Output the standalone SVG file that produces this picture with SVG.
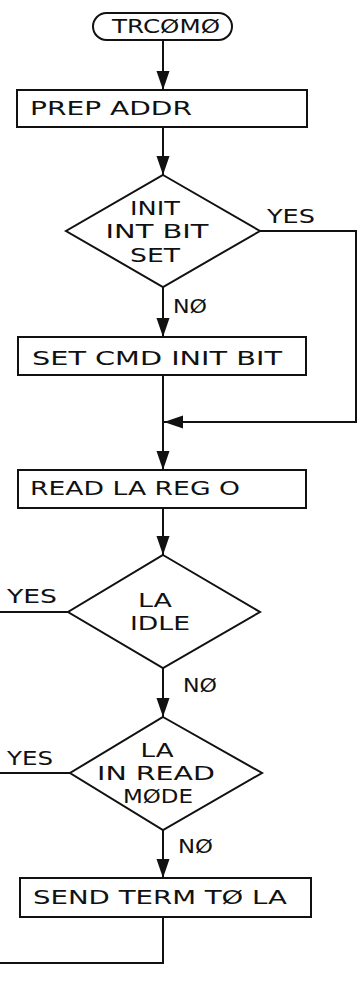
<svg xmlns="http://www.w3.org/2000/svg" width="360" height="983" viewBox="0 0 360 983">
<style>
.sh{fill:#fff;stroke:#111;stroke-width:2}
.ln{fill:none;stroke:#111;stroke-width:2}
text{font-family:"DejaVu Sans","Liberation Sans",sans-serif;font-size:19px;fill:#111}
.c{text-anchor:middle}
</style>
<defs>
<marker id="ah" markerUnits="userSpaceOnUse" markerWidth="20" markerHeight="14" refX="19" refY="6.5" orient="auto">
<path d="M0,0 L19,6.5 L0,13 z" fill="#111"/>
</marker>
</defs>
<rect width="360" height="983" fill="#fff"/>
<g id="connectors">
<line class="ln" x1="163" y1="40" x2="163" y2="90" marker-end="url(#ah)"/>
<line class="ln" x1="163" y1="127" x2="163" y2="175" marker-end="url(#ah)"/>
<line class="ln" x1="163" y1="287" x2="163" y2="337" marker-end="url(#ah)"/>
<polyline class="ln" points="260,231 356,231 356,422 164,422" marker-end="url(#ah)"/>
<line class="ln" x1="163" y1="375" x2="163" y2="470" marker-end="url(#ah)"/>
<line class="ln" x1="163" y1="508" x2="163" y2="555" marker-end="url(#ah)"/>
<line class="ln" x1="68" y1="612" x2="0" y2="612"/>
<line class="ln" x1="163" y1="668" x2="163" y2="717" marker-end="url(#ah)"/>
<line class="ln" x1="70" y1="773" x2="0" y2="773"/>
<line class="ln" x1="163" y1="830" x2="163" y2="878" marker-end="url(#ah)"/>
<polyline class="ln" points="163,917 163,963 0,963"/>
<text x="267" y="223" textLength="48" lengthAdjust="spacingAndGlyphs">YES</text>
<text x="173" y="313" textLength="34" lengthAdjust="spacingAndGlyphs">NØ</text>
<text x="7" y="603" textLength="50" lengthAdjust="spacingAndGlyphs">YES</text>
<text x="183" y="692" textLength="34" lengthAdjust="spacingAndGlyphs">NØ</text>
<text x="7" y="765" textLength="46" lengthAdjust="spacingAndGlyphs">YES</text>
<text x="178" y="853" textLength="35" lengthAdjust="spacingAndGlyphs">NØ</text>
</g>
<g id="start">
<rect class="sh" x="93" y="13" width="139" height="27" rx="13.5"/>
<text x="112" y="33" textLength="108" lengthAdjust="spacingAndGlyphs">TRCØMØ</text>
</g>
<g id="prep-addr">
<rect class="sh" x="17" y="90" width="290" height="37"/>
<text x="30" y="115" textLength="162" lengthAdjust="spacingAndGlyphs">PREP ADDR</text>
</g>
<g id="init-bit-set">
<polygon class="sh" points="163,175 260,231 163,287 66,231"/>
<text class="c" x="155" y="215" textLength="50" lengthAdjust="spacingAndGlyphs">INIT</text>
<text class="c" x="157" y="238" textLength="103" lengthAdjust="spacingAndGlyphs">INT BIT</text>
<text class="c" x="155" y="262" textLength="50" lengthAdjust="spacingAndGlyphs">SET</text>
</g>
<g id="set-cmd">
<rect class="sh" x="18" y="337" width="288" height="38"/>
<text x="32" y="365" textLength="250" lengthAdjust="spacingAndGlyphs">SET CMD INIT BIT</text>
</g>
<g id="read-la">
<rect class="sh" x="18" y="470" width="288" height="38"/>
<text x="30" y="495" textLength="210" lengthAdjust="spacingAndGlyphs">READ LA REG O</text>
</g>
<g id="la-idle">
<polygon class="sh" points="163,555 260,612 163,668 68,612"/>
<text class="c" x="155" y="607" textLength="34" lengthAdjust="spacingAndGlyphs">LA</text>
<text class="c" x="160" y="630" textLength="60" lengthAdjust="spacingAndGlyphs">IDLE</text>
</g>
<g id="la-read-mode">
<polygon class="sh" points="163,717 262,773 163,830 70,773"/>
<text class="c" x="157" y="757" textLength="33" lengthAdjust="spacingAndGlyphs">LA</text>
<text class="c" x="156" y="780" textLength="118" lengthAdjust="spacingAndGlyphs">IN READ</text>
<text class="c" x="158" y="803" textLength="70" lengthAdjust="spacingAndGlyphs">MØDE</text>
</g>
<g id="send-term">
<rect class="sh" x="20" y="878" width="291" height="39"/>
<text x="33" y="904" textLength="254" lengthAdjust="spacingAndGlyphs">SEND TERM TØ LA</text>
</g>
</svg>
